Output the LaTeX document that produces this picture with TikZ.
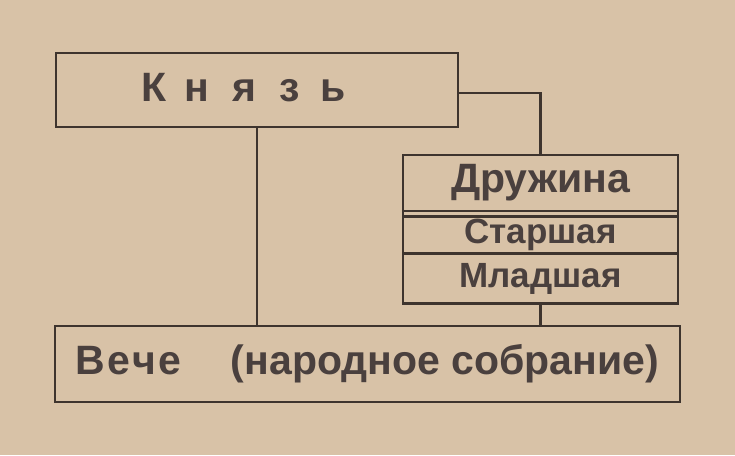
\documentclass[tikz,border=0pt]{standalone}
\usepackage{fontspec}
\setmainfont{Liberation Sans}
\usetikzlibrary{positioning}
\definecolor{paper}{RGB}{216,194,167}
\definecolor{ink}{RGB}{62,52,46}
\definecolor{print}{RGB}{74,64,62}

\begin{document}
\begin{tikzpicture}[x=1pt, y=-1pt,
  box/.style={draw=ink, line width=2.2pt, rectangle, inner sep=0pt, outer sep=0pt, text=print},
  big/.style={font=\fontsize{41}{43}\bfseries\selectfont},
  small/.style={font=\fontsize{35}{37}\bfseries\selectfont},
  link/.style={draw=ink, line width=2.2pt}]

  \useasboundingbox[fill=paper] (0,0) rectangle (735,455);

  % upper box
  \node[box, minimum width=402pt, minimum height=74pt] (knyaz) at (257,90) {};
  \node[text=print, font=\fontsize{41}{43}\bfseries\selectfont, inner sep=0pt] (knyazlabel) at (244,88)
    {К\hspace{18pt}н\hspace{23pt}я\hspace{23pt}з\hspace{21pt}ь};

  % druzhina
  \node[box, big, minimum width=275pt, minimum height=56pt] (druzhina) at (540.5,183) {Дружина};
  \node[box, draw=none, small, minimum width=275pt, minimum height=37pt, below=5.5pt of druzhina] (starshaya) {Старшая};
  \node[box, small, minimum width=275pt, minimum height=50pt, below=0pt of starshaya] (mladshaya) {Младшая};
  \draw[link] (starshaya.north west) -- (starshaya.north east);
  \draw[link] (druzhina.south west) -- (mladshaya.north west);
  \draw[link] (druzhina.south east) -- (mladshaya.north east);

  % lower box
  \node[box, big, minimum width=625pt, minimum height=76pt] (veche) at (367.5,364)
    {В\hspace{2pt}е\hspace{2pt}ч\hspace{2pt}е\hspace{50pt}(народное собрание)};

  \draw[link] ([yshift=-3pt]knyaz.east) -| (druzhina.north);
  \draw[link] (knyaz.south) -- (knyaz.south |- veche.north);
  \draw[link] (mladshaya.south) -- (mladshaya.south |- veche.north);

\end{tikzpicture}
\end{document}
